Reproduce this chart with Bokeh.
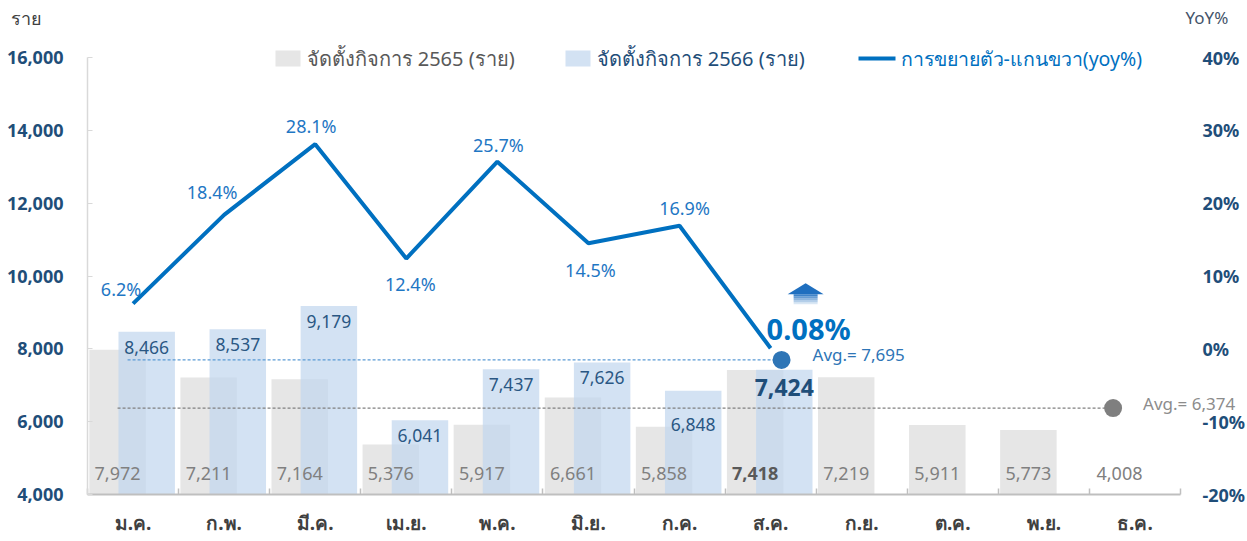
from bokeh.plotting import figure
from bokeh.models import Range1d, FixedTicker, NumeralTickFormatter, Label, ColumnDataSource
from bokeh.core.properties import value
from bokeh.embed import file_html
from bokeh.resources import INLINE

# ---------------- data ----------------
months = ["ม.ค.", "ก.พ.", "มี.ค.", "เม.ย.", "พ.ค.", "มิ.ย.", "ก.ค.", "ส.ค.", "ก.ย.", "ต.ค.", "พ.ย.", "ธ.ค."]
reg_2565 = [7972, 7211, 7164, 5376, 5917, 6661, 5858, 7418, 7219, 5911, 5773, 4008]
reg_2566 = [8466, 8537, 9179, 6041, 7437, 7626, 6848, 7424]
yoy = [6.2, 18.4, 28.1, 12.4, 25.7, 14.5, 16.9, 0.08]
avg_2565 = 6374
avg_2566 = 7695
left_ticks = [4000, 6000, 8000, 10000, 12000, 14000, 16000]
right_ticks = [-20, -10, 0, 10, 20, 30, 40]
legend_labels = ["จัดตั้งกิจการ 2565 (ราย)", "จัดตั้งกิจการ 2566 (ราย)", "การขยายตัว-แกนขวา(yoy%)"]

FNAME = "Noto Sans"
FONT = value(FNAME)

# ---------------- layout (pixels) ----------------
W, H = 1247, 541
AX_L, AX_R = 87, 1180        # where categories 0..12 sit
AX_B = 494                   # pixel row of 4,000 / -20%
Y_TOP_TICK = 57              # pixel row of 16,000 / 40%
Y0, Y1 = 4000, 16000
R0, R1 = -20, 40
XU = (AX_R - AX_L) / 12.0
PXY = (AX_B - Y_TOP_TICK) / (Y1 - Y0)
PXR = (AX_B - Y_TOP_TICK) / (R1 - R0)

def X(page_x):               # page pixel -> x data
    return (page_x - AX_L) / XU

def Y(page_y):               # page pixel -> left data
    return Y0 + (AX_B - page_y) / PXY

def R(page_y):               # page pixel -> right data
    return R0 + (AX_B - page_y) / PXR

def px_x(d):
    return d / XU

def px_r(d):
    return d / PXR

p = figure(width=W, height=H, x_range=Range1d(X(0), X(W)), y_range=Range1d(Y(H), Y(0)),
           output_backend="svg", toolbar_location=None,
           min_border_left=0, min_border_right=0, min_border_top=0, min_border_bottom=0)
p.outline_line_color = None
p.grid.visible = False
p.background_fill_color = "white"
p.extra_y_ranges = {"yoy": Range1d(R(H), R(0))}

# ---------------- axes ----------------
xa = p.xaxis[0]
xa.fixed_location = Y0
xa.ticker = FixedTicker(ticks=[i + 0.5 for i in range(12)], minor_ticks=list(range(13)))
xa.major_label_overrides = {i + 0.5: m for i, m in enumerate(months)}
xa.bounds = (0, 12)
xa.major_tick_in = 0
xa.major_tick_out = 0
xa.minor_tick_in = 6
xa.minor_tick_out = 0
xa.minor_tick_line_color = "#bfbfbf"
xa.minor_tick_line_width = 1.5
xa.axis_line_color = "#bfbfbf"
xa.axis_line_width = 2
xa.major_label_standoff = 15
xa.major_label_text_font = FNAME
xa.major_label_text_font_size = "19px"
xa.major_label_text_font_style = "bold"
xa.major_label_text_color = "#404040"

ya = p.yaxis[0]
ya.fixed_location = 0
ya.ticker = FixedTicker(ticks=left_ticks, minor_ticks=[])
ya.formatter = NumeralTickFormatter(format="0,0")
ya.bounds = (Y0, Y1)
ya.axis_line_color = "#d9d9d9"
ya.axis_line_width = 1.5
ya.major_tick_in = 5
ya.major_tick_out = 0
ya.major_tick_line_color = "#d9d9d9"
ya.minor_tick_line_color = None
ya.major_label_standoff = 24
ya.major_label_text_font = FNAME
ya.major_label_text_font_size = "18px"
ya.major_label_text_font_style = "bold"
ya.major_label_text_color = "#1f4e79"

# right (YoY %) scale labels, placed on the secondary range
p.text(x=[12] * len(right_ticks), y=right_ticks, text=[f"{t}%" for t in right_ticks],
       y_range_name="yoy", x_offset=22, text_font=FONT, text_font_size="18px",
       text_font_style="bold", text_color="#1f4e79", text_align="left", text_baseline="middle")

# ---------------- bars ----------------
GOFF, BOFF, BW = -0.17, 0.15, 0.62
gx = [i + 0.5 + GOFF for i in range(len(reg_2565))]
bx = [i + 0.5 + BOFF for i in range(len(reg_2566))]
p.vbar(x=gx, top=reg_2565, bottom=Y0, width=BW, fill_color="#e6e6e6", line_color=None)
p.vbar(x=bx, top=reg_2566, bottom=Y0, width=BW, fill_color="#c0d6ee", fill_alpha=0.7, line_color=None)

hl = 7  # highlighted month (ส.ค.)
gsrc = ColumnDataSource(dict(
    x=gx, y=[Y0] * len(gx), t=[f"{v:,}" for v in reg_2565],
    c=["#595959" if i == hl else "#808080" for i in range(len(gx))],
    s=["bold" if i == hl else "normal" for i in range(len(gx))]))
p.text(x="x", y="y", text="t", source=gsrc, text_color="c", text_font_style="s",
       text_font=FONT, text_font_size="18px", text_align="center", text_baseline="middle",
       y_offset=-21)

bsrc = ColumnDataSource(dict(
    x=bx, y=reg_2566, t=[f"{v:,}" for v in reg_2566],
    c=["#1f4e79" if i == hl else "#2a5783" for i in range(len(bx))],
    s=["bold" if i == hl else "normal" for i in range(len(bx))],
    fs=["23px" if i == hl else "17.5px" for i in range(len(bx))],
    yo=[27 if i == 6 else 9 for i in range(len(bx))]))
p.text(x="x", y="y", text="t", source=bsrc, text_color="c", text_font_style="s",
       text_font=FONT, text_font_size="fs", text_align="center", text_baseline="top",
       y_offset="yo")

# ---------------- average lines ----------------
b_start, b_end = 0.5 - 0.06, hl + 0.5 + 0.12
g_start, g_end = 0.5 + GOFF, 11.5 - 0.24
p.segment(x0=[b_start], y0=[avg_2566], x1=[b_end], y1=[avg_2566],
          line_color="#5b9bd5", line_dash="3 2", line_width=1.2)
p.segment(x0=[g_start], y0=[avg_2565], x1=[g_end], y1=[avg_2565],
          line_color="#808080", line_dash="3 2", line_width=1.2)
p.scatter(x=[b_end], y=[avg_2566], size=18, fill_color="#2e75b6", line_color=None)
p.scatter(x=[g_end], y=[avg_2565], size=18, fill_color="#7f7f7f", line_color=None)
p.add_layout(Label(x=b_end, y=avg_2566, x_offset=31, y_offset=5, text=f"Avg.= {avg_2566:,}",
                   text_font=FNAME, text_font_size="17px", text_color="#2e75b6",
                   text_baseline="middle", text_align="left"))
p.add_layout(Label(x=g_end, y=avg_2565, x_offset=30, y_offset=5, text=f"Avg.= {avg_2565:,}",
                   text_font=FNAME, text_font_size="17px", text_color="#8c8c8c",
                   text_baseline="middle", text_align="left"))

# ---------------- YoY line ----------------
lx = [i + 0.5 for i in range(len(yoy))]
p.line(x=lx, y=yoy, y_range_name="yoy", line_color="#0070c0", line_width=4)
dxs = [-12, -12, -4, 4, 1, 2, 5]
dys = [-15, -23, -18, 25, -17, 27, -18]
lsrc = ColumnDataSource(dict(
    x=[lx[i] + px_x(dxs[i]) for i in range(7)], y=yoy[:7],
    t=[f"{v}%" for v in yoy[:7]], yo=dys))
p.text(x="x", y="y", text="t", source=lsrc, y_range_name="yoy", y_offset="yo",
       text_font=FONT, text_font_size="18px", text_color="#1f77c4",
       text_align="center", text_baseline="middle")

p.add_layout(Label(x=lx[hl], y=yoy[hl], y_range_name="yoy", x_offset=38, y_offset=20,
                   text=f"{yoy[hl]:.2f}%", text_font=FNAME, text_font_size="29px",
                   text_font_style="bold", text_color="#0070c0",
                   text_align="center", text_baseline="middle"))

# up arrow
ax0, ay0 = lx[hl] + px_x(35), yoy[hl]
p.patch(x=[ax0 - px_x(18), ax0, ax0 + px_x(18)],
        y=[ay0 + px_r(54), ay0 + px_r(65), ay0 + px_r(54)],
        y_range_name="yoy", fill_color="#1f6fbf", line_color=None)
for k in range(5):
    top = 54 - 2 * k
    p.quad(left=[ax0 - px_x(12)], right=[ax0 + px_x(12)],
           top=[ay0 + px_r(top)], bottom=[ay0 + px_r(top - 2)],
           y_range_name="yoy", fill_color="#1f6fbf", fill_alpha=0.85 - 0.17 * k, line_color=None)

# ---------------- legend ----------------
LY = Y(58)
p.quad(left=[X(275)], right=[X(300)], top=[Y(50)], bottom=[Y(66)],
       fill_color="#e6e6e6", line_color=None)
p.quad(left=[X(565)], right=[X(590)], top=[Y(50)], bottom=[Y(66)],
       fill_color="#c0d6ee", fill_alpha=0.7, line_color=None)
p.segment(x0=[X(858)], x1=[X(895)], y0=[LY], y1=[LY], line_color="#0070c0", line_width=4)
for lx0, lab, col, fs in [(306, legend_labels[0], "#595959", "20px"),
                          (596, legend_labels[1], "#1f4e79", "20px"),
                          (900, legend_labels[2], "#0070c0", "19.5px")]:
    p.add_layout(Label(x=X(lx0), y=LY, text=lab, text_font=FNAME, text_font_size=fs,
                       text_color=col, text_baseline="middle", text_align="left"))

# axis titles
p.add_layout(Label(x=X(10), y=Y(17), text="ราย", text_font=FNAME,
                   text_font_size="18px", text_color="#404040",
                   text_baseline="middle", text_align="left"))
p.add_layout(Label(x=X(1185), y=Y(17), text="YoY%", text_font=FNAME,
                   text_font_size="17px", text_color="#44546a",
                   text_baseline="middle", text_align="left"))

open("out.html", "w").write(file_html(p, INLINE))
